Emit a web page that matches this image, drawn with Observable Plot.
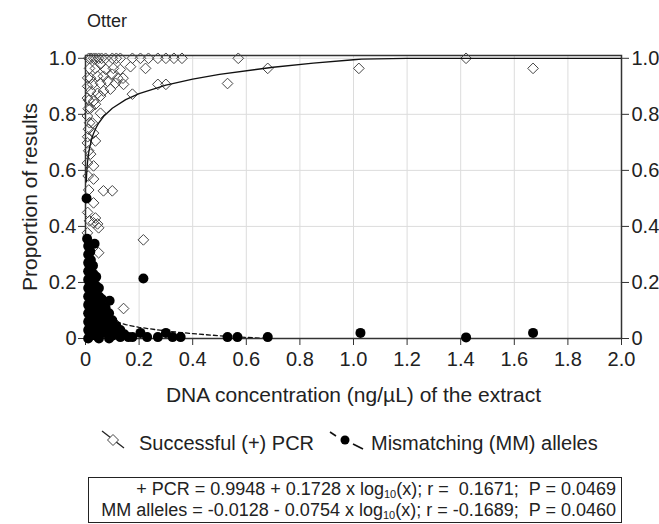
<!DOCTYPE html>
<html><head><meta charset="utf-8">
<script src="https://cdn.jsdelivr.net/npm/d3@7"></script>
<script src="https://cdn.jsdelivr.net/npm/@observablehq/plot@0.6"></script>
<style>
body{margin:0;background:#fff;font-family:"Liberation Sans",Arial,sans-serif;color:#222}
#wrap{position:relative;width:659px;height:524px;overflow:hidden;background:#fff}
#chart{position:absolute;left:0;top:0}
#title{position:absolute;left:87px;top:11px;font-size:18px;line-height:20px}
.leg{position:absolute;font-size:20px;line-height:24px;top:431px;white-space:nowrap}
.icon{position:absolute;top:429px}
#box{position:absolute;left:88px;top:477px;width:534px;height:46px;border:1.5px solid #222;box-sizing:border-box;text-align:right;font-size:18px;line-height:20.5px;padding:1px 5px 0 0;white-space:nowrap}
#box sub{font-size:11px;vertical-align:-3px;line-height:0}
</style></head>
<body>
<div id="wrap">
  <div id="chart"></div>
  <div id="title">Otter</div>
  <svg class="icon" style="left:100px" width="28" height="24">
    <line x1="2" y1="2" x2="24" y2="19" stroke="#222" stroke-width="1.3"/>
    <path d="M13,5.5 L18.5,11 L13,16.5 L7.5,11 Z" fill="#fff" stroke="#444" stroke-width="1"/>
  </svg>
  <div class="leg" style="left:139px">Successful (+) PCR</div>
  <svg class="icon" style="left:328px" width="40" height="24">
    <line x1="2" y1="3" x2="8" y2="7" stroke="#111" stroke-width="1.6"/>
    <circle cx="17" cy="11" r="4.5" fill="#000"/>
    <line x1="25" y1="15" x2="35" y2="20" stroke="#111" stroke-width="1.6"/>
  </svg>
  <div class="leg" style="left:371px">Mismatching (MM) alleles</div>
  <div id="box">+ PCR = 0.9948 + 0.1728 x log<sub>10</sub>(x); r = &nbsp;0.1671; &nbsp;P = 0.0469<br>MM alleles = -0.0128 - 0.0754 x log<sub>10</sub>(x); r = -0.1689; &nbsp;P = 0.0460</div>
</div>
<script>
const xTicks = [0, 0.2, 0.4, 0.6, 0.8, 1.0, 1.2, 1.4, 1.6, 1.8, 2.0];
const xTickLabels = ["0", "0.2", "0.4", "0.6", "0.8", "1.0", "1.2", "1.4", "1.6", "1.8", "2.0"];
const yTicks = [0, 0.2, 0.4, 0.6, 0.8, 1.0];
const yTickLabels = ["0", "0.2", "0.4", "0.6", "0.8", "1.0"];
const xTitle = "DNA concentration (ng/µL) of the extract";
const yTitle = "Proportion of results";

// Successful (+) PCR proportions (open diamonds)
const pcrPoints = [
  [0.012,1],[0.02,1],[0.03,1],[0.038,1],[0.049,1],[0.06,1],[0.075,1],[0.10,1],[0.115,1],[0.13,1],
  [0.175,1],[0.205,1],[0.235,1],[0.27,1],[0.30,1],[0.33,1],[0.36,1],[0.57,1],[1.42,1],
  [0.015,0.964],[0.037,0.964],[0.056,0.979],[0.075,0.961],[0.104,0.964],[0.13,0.96],[0.168,0.97],[0.224,0.964],
  [0.019,0.929],[0.045,0.936],[0.067,0.936],[0.10,0.943],[0.12,0.929],[0.14,0.929],
  [0.026,0.907],[0.056,0.911],[0.082,0.918],[0.112,0.911],[0.142,0.907],
  [0.019,0.883],[0.045,0.875],[0.067,0.883],[0.093,0.89],
  [0.175,0.872],[0.27,0.907],[0.30,0.907],
  [0.007,0.858],[0.03,0.847],[0.056,0.865],
  [0.019,0.822],[0.037,0.836],
  [0.007,0.794],[0.056,0.804],
  [0.026,0.769],[0.011,0.747],[0.03,0.733],
  [0.007,0.698],[0.037,0.705],
  [0.019,0.658],[0.007,0.626],[0.03,0.616],
  [0.03,0.569],[0.067,0.527],[0.10,0.527],[0.03,0.484],
  [0.037,0.43],[0.03,0.413],[0.045,0.409],[0.049,0.395],[0.007,0.377],
  [0.049,0.306],[0.216,0.352],[0.142,0.107],[0.104,0.06],
  [0.008,0.93],[0.008,0.90],[0.012,0.85],[0.01,0.82],[0.015,0.77],[0.008,0.72],
  [0.012,0.67],[0.01,0.58],[0.012,0.53],[0.008,0.45],[0.015,0.42],
  [0.53,0.91],[0.68,0.964],[1.02,0.964],[1.67,0.964]
];

// Mismatching (MM) alleles proportions (black dots)
const mmPoints = [
  [0.01,0.33],[0.01,0.30],[0.01,0.27],[0.01,0.24],[0.01,0.21],[0.01,0.18],[0.01,0.15],[0.01,0.12],[0.01,0.09],[0.01,0.06],[0.01,0.03],[0.01,0.0],
  [0.018,0.31],[0.02,0.28],[0.018,0.25],[0.02,0.22],[0.019,0.19],[0.02,0.16],[0.018,0.13],[0.02,0.10],[0.019,0.07],[0.02,0.04],[0.018,0.01],
  [0.028,0.26],[0.03,0.23],[0.029,0.20],[0.03,0.17],[0.028,0.14],[0.03,0.11],[0.029,0.08],[0.03,0.05],[0.028,0.02],
  [0.04,0.22],[0.038,0.19],[0.04,0.16],[0.039,0.13],[0.04,0.10],[0.038,0.07],[0.04,0.04],[0.039,0.01],
  [0.05,0.18],[0.051,0.15],[0.05,0.12],[0.052,0.09],[0.05,0.06],[0.051,0.03],[0.05,0.0],
  [0.062,0.14],[0.063,0.11],[0.061,0.08],[0.063,0.05],[0.062,0.02],
  [0.075,0.11],[0.074,0.08],[0.076,0.05],[0.075,0.02],
  [0.088,0.09],[0.087,0.06],[0.089,0.03],[0.088,0.0],
  [0.10,0.065],[0.102,0.035],[0.10,0.01],
  [0.115,0.045],[0.116,0.015],[0.13,0.03],[0.13,0.005],[0.145,0.015],[0.16,0.005],
  [0.004,0.50],[0.006,0.356],[0.034,0.338],[0.09,0.135],[0.216,0.214],
  [0.175,0.005],[0.205,0.02],[0.23,0.005],[0.27,0.005],[0.30,0.02],[0.325,0.005],[0.355,0.005],
  [0.53,0.005],[0.567,0.005],[0.68,0.005],[1.026,0.02],[1.42,0.004],[1.67,0.02]
];

// Regression fits as printed in the equation box
const pcrCoef = [0.9948, 0.1728];
const mmCoef = [-0.0128, -0.0754];
const pcrFitX = [0.003, 0.004, 0.005, 0.006, 0.008, 0.01, 0.0125, 0.015, 0.02, 0.025, 0.03, 0.04, 0.05, 0.07, 0.1, 0.15, 0.2, 0.3, 0.4, 0.5, 0.7, 0.85, 1.0, 1.03, 1.2, 1.6, 2.0];
const mmFitX = [0.003, 0.005, 0.01, 0.02, 0.03, 0.05, 0.07, 0.1, 0.15, 0.2, 0.3, 0.4, 0.5, 0.6, 0.7, 0.8, 0.9];

const pcrFit = pcrFitX.map(x => ({x, y: Math.min(1, pcrCoef[0] + pcrCoef[1] * Math.log10(x))}));
const mmFit = mmFitX.map(x => ({x, y: mmCoef[0] + mmCoef[1] * Math.log10(x)}));

const fmtX = d => xTickLabels[xTicks.indexOf(d)];
const fmtY = d => yTickLabels[yTicks.indexOf(d)];

const chart = Plot.plot({
  width: 659, height: 420,
  marginLeft: 85, marginRight: 38, marginTop: 55, marginBottom: 82,
  x: {domain: [0, 2]},
  y: {domain: [0, 1.01]},
  style: {fontFamily: "'Liberation Sans', Arial, sans-serif", fontSize: "20px", color: "#222", background: "#fff", overflow: "visible"},
  marks: [
    Plot.gridX({ticks: xTicks.slice(1, -1), stroke: "#dcdcdc", strokeOpacity: 1}),
    Plot.gridY({ticks: yTicks.slice(1), stroke: "#dcdcdc", strokeOpacity: 1}),
    Plot.axisY({anchor: "left", ticks: yTicks, tickFormat: fmtY, tickSize: 7, tickPadding: 2, fontSize: 20, label: null, stroke: "#333"}),
    Plot.axisY({anchor: "right", ticks: yTicks, tickFormat: fmtY, tickSize: 7, tickPadding: 3, fontSize: 20, label: null, stroke: "#333"}),
    Plot.axisX({anchor: "bottom", ticks: xTicks, tickFormat: fmtX, tickSize: 7, tickPadding: 6, fontSize: 20, label: null, stroke: "#333"}),
    Plot.frame({stroke: "#333", strokeWidth: 1.5}),
    Plot.dot(pcrPoints, {x: d => d[0], y: d => d[1], symbol: "diamond2", r: 4.8, stroke: "#444", strokeWidth: 1, fill: "none"}),
    Plot.line(pcrFit, {x: "x", y: "y", stroke: "#111", strokeWidth: 1.3, clip: true}),
    Plot.line(mmFit, {x: "x", y: "y", stroke: "#111", strokeWidth: 1.3, strokeDasharray: "4,3", clip: true}),
    Plot.dot(mmPoints, {x: d => d[0], y: d => d[1], r: 5, fill: "#000"}),
    Plot.text([yTitle], {frameAnchor: "left", textAnchor: "middle", dx: -55, rotate: -90, fontSize: 21, fill: "#222"}),
    Plot.text([xTitle], {frameAnchor: "bottom", dy: 63, fontSize: 21, fill: "#222"})
  ]
});
document.getElementById("chart").appendChild(chart);
</script>
</body></html>
